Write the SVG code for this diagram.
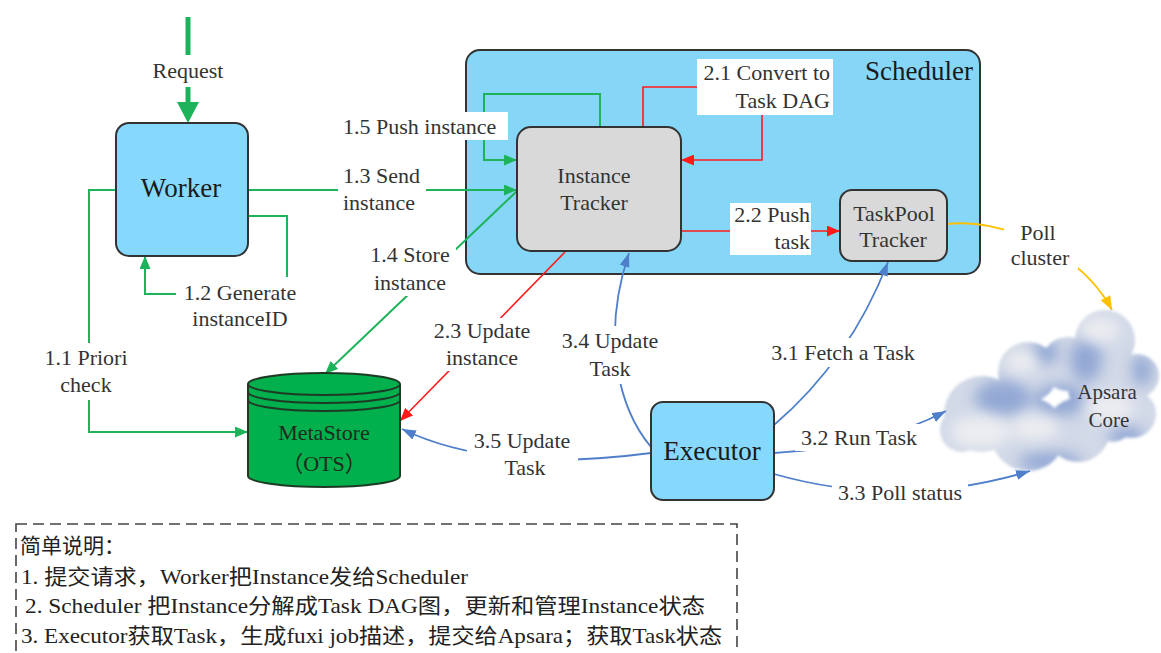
<svg xmlns="http://www.w3.org/2000/svg" width="1161" height="653" viewBox="0 0 1161 653">
  <style>
    .lbl { font-family: "Liberation Serif", "Times New Roman", serif; font-size: 22px; fill: #333; }
    .mid { text-anchor: middle; }
    .end { text-anchor: end; }
    .big { font-family: "Liberation Serif", "Times New Roman", serif; font-size: 27px; fill: #1a1a1a; text-anchor: middle; }
    .box { stroke: #333; stroke-width: 2; }
    .g { fill: none; stroke: #1DB35A; stroke-width: 2; }
    .r { fill: none; stroke: #FF1A1A; stroke-width: 1.6; }
    .b { fill: none; stroke: #4F7FCB; stroke-width: 1.8; }
    .y { fill: none; stroke: #FFC000; stroke-width: 1.8; }
    .halo { fill: #fff; }
    .note { font-family: "Liberation Serif", "Noto Sans CJK SC", serif; font-size: 21px; fill: #222; }
    .shade { fill: #8CA3D3; }
    .lite { fill: #ECEDF1; }
  </style>
  <defs>
    <marker id="ag" viewBox="0 0 13 11" refX="13" refY="5.5" markerWidth="13" markerHeight="11" markerUnits="userSpaceOnUse" orient="auto">
      <path d="M0,0 L13,5.5 L0,11 z" fill="#1DB35A"/>
    </marker>
    <marker id="ar" viewBox="0 0 13 11" refX="13" refY="5.5" markerWidth="13" markerHeight="11" markerUnits="userSpaceOnUse" orient="auto">
      <path d="M0,0 L13,5.5 L0,11 z" fill="#FF1A1A"/>
    </marker>
    <marker id="ab" viewBox="0 0 14 10" refX="14" refY="5" markerWidth="14" markerHeight="10" markerUnits="userSpaceOnUse" orient="auto">
      <path d="M0,0 L14,5 L0,10 z" fill="#4F7FCB"/>
    </marker>
    <marker id="ay" viewBox="0 0 14 11" refX="14" refY="5.5" markerWidth="14" markerHeight="11" markerUnits="userSpaceOnUse" orient="auto">
      <path d="M0,0 L14,5.5 L0,11 z" fill="#FFC000"/>
    </marker>
    <!-- outline of the cloud, built from overlapping lumps -->
    <clipPath id="cloudClip">
      <circle cx="1105" cy="340" r="30"/>
      <circle cx="1137" cy="376" r="22"/>
      <circle cx="1028" cy="372" r="30"/>
      <circle cx="1068" cy="364" r="27"/>
      <circle cx="982" cy="414" r="38"/>
      <circle cx="1132" cy="414" r="24"/>
      <circle cx="1098" cy="388" r="30"/>
      <circle cx="1028" cy="434" r="37"/>
      <circle cx="1078" cy="430" r="32"/>
      <circle cx="1112" cy="420" r="22"/>
      <circle cx="962" cy="430" r="22"/>
    </clipPath>
    <filter id="edge" x="-10%" y="-10%" width="120%" height="120%">
      <feGaussianBlur stdDeviation="1.5"/>
    </filter>
    <filter id="haze" x="-50%" y="-50%" width="200%" height="200%">
      <feGaussianBlur stdDeviation="7"/>
    </filter>
  </defs>

  <rect width="1161" height="653" fill="#fff"/>

  <!-- scheduler container -->
  <g id="scheduler">
    <rect x="466" y="50" width="514" height="224" rx="14" fill="#86D6F8" class="box"/>
    <text x="919" y="80" class="big">Scheduler</text>
  </g>

  <!-- cloud: Apsara Core -->
  <g id="apsara-core">
    <g filter="url(#edge)">
      <g clip-path="url(#cloudClip)">
        <rect x="930" y="300" width="235" height="190" fill="#D2D9E7"/>
        <g filter="url(#haze)" opacity="0.9">
          <ellipse cx="1003" cy="398" rx="28" ry="18" class="shade"/>
          <ellipse cx="1060" cy="400" rx="26" ry="16" class="shade"/>
          <ellipse cx="1086" cy="360" rx="16" ry="22" class="shade"/>
          <ellipse cx="1126" cy="436" rx="18" ry="10" class="shade"/>
          <ellipse cx="1050" cy="462" rx="32" ry="10" class="shade"/>
          <ellipse cx="1142" cy="370" rx="10" ry="16" class="shade"/>
          <ellipse cx="1045" cy="352" rx="14" ry="12" class="shade"/>
        </g>
        <g filter="url(#haze)">
          <ellipse cx="980" cy="432" rx="30" ry="16" class="lite"/>
          <ellipse cx="1035" cy="428" rx="24" ry="12" class="lite"/>
          <ellipse cx="1100" cy="330" rx="20" ry="12" class="lite"/>
          <ellipse cx="1022" cy="362" rx="16" ry="11" class="lite"/>
          <ellipse cx="1110" cy="408" rx="24" ry="14" class="lite"/>
        </g>
      </g>
    </g>
    <text x="1107" y="399" class="lbl mid" style="font-size:21px">Apsara</text>
    <text x="1109" y="427" class="lbl mid" style="font-size:21px">Core</text>
  </g>

  <!-- connectors -->
  <g id="connectors">
    <!-- request into worker -->
    <path d="M188,17 V55" fill="none" stroke="#1DB35A" stroke-width="5"/>
    <path d="M188,87 V104" fill="none" stroke="#1DB35A" stroke-width="5"/>
    <path d="M177,102 L199,102 L188,123 z" fill="#1DB35A"/>
    <!-- green: worker flows -->
    <path class="g" d="M248,190 H517" marker-end="url(#ag)"/>
    <path class="g" d="M248,216 H287 V294 H145 V256" marker-end="url(#ag)"/>
    <path class="g" d="M116,190 H89 V432 H248" marker-end="url(#ag)"/>
    <path class="g" d="M600,127 V94 H484 V160 H517" marker-end="url(#ag)"/>
    <path class="g" d="M517,191 L325,374" marker-end="url(#ag)"/>
    <!-- red: instance tracker flows -->
    <path class="r" d="M643,127 V87 H700 M762,112 V160 H681" marker-end="url(#ar)"/>
    <path class="r" d="M681,231 H840" marker-end="url(#ar)"/>
    <path class="r" d="M565,252 L400,421" marker-end="url(#ar)"/>
    <!-- blue: executor flows -->
    <path class="b" d="M651,447 C620,410 600,340 629,253" marker-end="url(#ab)"/>
    <path class="b" d="M774,425 Q850,360 888,262" marker-end="url(#ab)"/>
    <path class="b" d="M774,453 C850,448 900,435 946,411" marker-end="url(#ab)"/>
    <path class="b" d="M774,474 Q900,510 1030,471" marker-end="url(#ab)"/>
    <path class="b" d="M651,453 C560,465 470,462 402,429" marker-end="url(#ab)"/>
    <!-- yellow: poll cluster -->
    <path class="y" d="M947,224 C1000,218 1080,250 1112,310" marker-end="url(#ay)"/>
  </g>

  <!-- connector labels -->
  <g id="labels">
    <text x="188" y="78" class="lbl mid">Request</text>

    <rect x="340" y="112" width="168" height="28" class="halo"/>
    <text x="343" y="134" class="lbl">1.5 Push instance</text>

    <rect x="338" y="163" width="88" height="52" class="halo"/>
    <text x="343" y="183" class="lbl">1.3 Send</text>
    <text x="343" y="210" class="lbl">instance</text>

    <rect x="364" y="240" width="92" height="56" class="halo"/>
    <text x="410" y="262" class="lbl mid">1.4 Store</text>
    <text x="410" y="290" class="lbl mid">instance</text>

    <rect x="176" y="277" width="128" height="54" class="halo"/>
    <text x="240" y="300" class="lbl mid">1.2 Generate</text>
    <text x="240" y="326" class="lbl mid">instanceID</text>

    <rect x="42" y="343" width="88" height="57" class="halo"/>
    <text x="86" y="365" class="lbl mid">1.1 Priori</text>
    <text x="86" y="392" class="lbl mid">check</text>

    <rect x="697" y="59" width="136" height="56" class="halo"/>
    <text x="830" y="80" class="lbl end">2.1 Convert to</text>
    <text x="830" y="108" class="lbl end">Task DAG</text>

    <rect x="730" y="203" width="81" height="52" class="halo"/>
    <text x="810" y="222" class="lbl end">2.2 Push</text>
    <text x="810" y="249" class="lbl end">task</text>

    <rect x="433" y="318" width="98" height="53" class="halo"/>
    <text x="482" y="338" class="lbl mid">2.3 Update</text>
    <text x="482" y="365" class="lbl mid">instance</text>

    <rect x="555" y="326" width="110" height="58" class="halo"/>
    <text x="610" y="348" class="lbl mid">3.4 Update</text>
    <text x="610" y="376" class="lbl mid">Task</text>

    <rect x="764" y="338" width="158" height="29" class="halo"/>
    <text x="843" y="360" class="lbl mid">3.1 Fetch a Task</text>

    <rect x="795" y="424" width="128" height="27" class="halo"/>
    <text x="859" y="445" class="lbl mid">3.2 Run Task</text>

    <rect x="832" y="478" width="136" height="28" class="halo"/>
    <text x="900" y="500" class="lbl mid">3.3 Poll status</text>

    <rect x="467" y="427" width="111" height="54" class="halo"/>
    <text x="522" y="448" class="lbl mid">3.5 Update</text>
    <text x="525" y="475" class="lbl mid">Task</text>

    <rect x="1004" y="222" width="74" height="47" class="halo"/>
    <text x="1038" y="240" class="lbl mid">Poll</text>
    <text x="1040" y="265" class="lbl mid">cluster</text>
  </g>

  <!-- nodes -->
  <g id="worker">
    <rect x="116" y="123" width="132" height="133" rx="13" fill="#86D9FD" class="box"/>
    <text x="181" y="197" class="big">Worker</text>
  </g>

  <g id="instance-tracker">
    <rect x="517" y="127" width="164" height="124" rx="14" fill="#D9D9D9" class="box"/>
    <text x="594" y="183" class="lbl mid">Instance</text>
    <text x="594" y="210" class="lbl mid">Tracker</text>
  </g>

  <g id="taskpool-tracker">
    <rect x="840" y="190" width="107" height="71" rx="12" fill="#D9D9D9" class="box"/>
    <text x="894" y="221" class="lbl mid">TaskPool</text>
    <text x="893" y="247" class="lbl mid">Tracker</text>
  </g>

  <g id="executor">
    <rect x="651" y="402" width="123" height="98" rx="12" fill="#86D9FD" class="box"/>
    <text x="712" y="460" class="big">Executor</text>
  </g>

  <g id="metastore">
    <path d="M248,384 V476 A76,11 0 0 0 400,476 V384" fill="#00B04C" stroke="#1E3A24" stroke-width="2"/>
    <ellipse cx="324" cy="384" rx="76" ry="11" fill="#00B04C" stroke="#1E3A24" stroke-width="2"/>
    <path d="M248,392 A76,11 0 0 0 400,392 M248,400 A76,11 0 0 0 400,400" fill="none" stroke="#1E3A24" stroke-width="2"/>
    <text x="324" y="440" class="lbl mid" style="fill:#1d2b1f">MetaStore</text>
    <text x="324" y="471" class="lbl mid" style="fill:#1d2b1f; font-family: 'Liberation Serif', 'Noto Sans CJK SC', serif">（OTS）</text>
  </g>

  <!-- legend -->
  <g id="legend">
    <rect x="16" y="524" width="721" height="150" fill="none" stroke="#444" stroke-width="1.6" stroke-dasharray="11 6"/>
    <text x="20" y="553" class="note">简单说明：</text>
    <text x="21" y="584" class="note" textLength="447" lengthAdjust="spacingAndGlyphs">1. 提交请求，Worker把Instance发给Scheduler</text>
    <text x="25" y="613" class="note" textLength="680" lengthAdjust="spacingAndGlyphs">2. Scheduler 把Instance分解成Task DAG图，更新和管理Instance状态</text>
    <text x="21" y="643" class="note" textLength="701" lengthAdjust="spacingAndGlyphs">3. Executor获取Task，生成fuxi job描述，提交给Apsara；获取Task状态</text>
  </g>
</svg>
